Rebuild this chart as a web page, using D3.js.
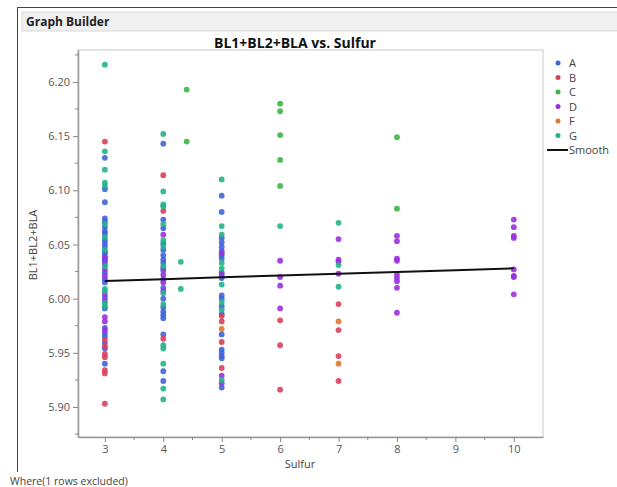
<!DOCTYPE html>
<html>
<head>
<meta charset="utf-8">
<script src="https://cdn.jsdelivr.net/npm/d3@7"></script>
<style>
  body { margin: 0; background: #fff; }
  text { font-family: 'Open Sans', 'Noto Sans', sans-serif; }
</style>
</head>
<body>
<svg id="chart" width="617" height="487"></svg>
<script>
// values, [Sulfur, BL1+BL2+BLA]
var groupA = [
  [3, 6.130], [3, 6.101], [3, 6.089], [3, 6.074], [3, 6.071], [3, 6.066], [3, 6.062], [3, 6.060],
  [3, 6.054], [3, 6.051], [3, 6.048], [3, 6.042], [3, 6.039], [3, 6.036], [3, 6.043], [3, 6.035],
  [3, 6.024], [3, 6.018], [3, 6.015], [3, 6.001], [3, 5.991], [3, 5.973], [3, 5.968], [3, 5.965],
  [3, 5.959], [3, 5.954], [3, 5.940],
  [4, 6.143], [4, 6.073], [4, 6.065], [4, 6.051], [4, 6.045], [4, 6.040], [4, 6.036], [4, 6.033],
  [4, 6.026], [4, 6.018], [4, 6.010], [4, 6.000], [4, 5.992], [4, 5.988], [4, 5.985], [4, 5.982],
  [4, 5.967], [4, 5.933], [4, 5.924],
  [5, 6.095], [5, 6.080], [5, 6.056], [5, 6.052], [5, 6.048], [5, 6.044], [5, 6.040], [5, 6.037],
  [5, 6.024], [5, 6.019], [5, 6.003], [5, 6.000], [5, 5.993], [5, 5.986], [5, 5.967], [5, 5.953],
  [5, 5.950], [5, 5.947], [5, 5.945], [5, 5.918]
]
var groupB = [
  [3, 6.145], [3, 5.962], [3, 5.956], [3, 5.949], [3, 5.946], [3, 5.934], [3, 5.931], [3, 5.903],
  [4, 6.114], [4, 6.081], [4, 5.963],
  [5, 5.984], [5, 5.979], [5, 5.960], [5, 5.936],
  [6, 5.980], [6, 5.957], [6, 5.916],
  [7, 5.995], [7, 5.971], [7, 5.947], [7, 5.924]
]
var groupC = [
  [4.4, 6.193], [4.4, 6.145],
  [6, 6.180], [6, 6.173], [6, 6.151], [6, 6.128], [6, 6.104],
  [8, 6.149], [8, 6.083]
]
var groupD = [
  [3, 6.038], [3, 6.032], [3, 6.027], [3, 6.021], [3, 6.004], [3, 5.998], [3, 5.983], [3, 5.979], [3, 5.971],
  [4, 6.059], [4, 6.028], [4, 6.022], [4, 6.015], [4, 6.007],
  [5, 6.042], [5, 6.022], [5, 5.929], [5, 5.922],
  [6, 6.035], [6, 6.020], [6, 6.012], [6, 5.991],
  [7, 6.055], [7, 6.036], [7, 6.034], [7, 6.023],
  [8, 6.058], [8, 6.053], [8, 6.037], [8, 6.035], [8, 6.022], [8, 6.019], [8, 6.016], [8, 6.010], [8, 5.987],
  [10, 6.073], [10, 6.066], [10, 6.058], [10, 6.056], [10, 6.027], [10, 6.021], [10, 6.020], [10, 6.004]
]
var groupF = [
  [5, 5.972],
  [7, 5.979], [7, 5.940]
]
var groupG = [
  [3, 6.216], [3, 6.136], [3, 6.119], [3, 6.107], [3, 6.104], [3, 6.069], [3, 6.057], [3, 6.045],
  [3, 6.030], [3, 6.009], [3, 6.007], [3, 5.996], [3, 5.993],
  [4, 6.152], [4, 6.099], [4, 6.087], [4, 6.085], [4, 6.069], [4, 6.054], [4, 6.048], [4, 6.030],
  [4, 6.005], [4, 5.995], [4, 5.957], [4, 5.954], [4, 5.940], [4, 5.917], [4, 5.907],
  [4.3, 6.034], [4.3, 6.009],
  [5, 6.110], [5, 6.067], [5, 6.059], [5, 6.033], [5, 6.028], [5, 6.013], [5, 5.997], [5, 5.990], [5, 5.925],
  [6, 6.067],
  [7, 6.070], [7, 6.031], [7, 6.011]
]

var groupNames = ['A', 'B', 'C', 'D', 'F', 'G']
var groupColors = ['#3f63d9', '#d9405a', '#3cb543', '#9b2fe0', '#d8792e', '#22b38c']

var smoothX = [3, 4, 5, 6, 7, 8, 9, 10]
var smoothY = [6.0163, 6.018, 6.0197, 6.0213, 6.023, 6.0247, 6.0263, 6.028]

var xTicks = [3, 4, 5, 6, 7, 8, 9, 10]
var yTicks = [5.90, 5.95, 6.00, 6.05, 6.10, 6.15, 6.20]

var svg = d3.select('#chart')

// window frame and header
svg.append('line').attr('x1', 17).attr('x2', 617).attr('y1', 7.5).attr('y2', 7.5).attr('stroke', '#444')
svg.append('line').attr('x1', 17.5).attr('x2', 17.5).attr('y1', 7).attr('y2', 472).attr('stroke', '#444')
svg.append('rect').attr('x', 22).attr('y', 12).attr('width', 600).attr('height', 19)
  .attr('fill', '#f0f0f0').attr('stroke', '#d9d9d9')
svg.append('text').attr('x', 26).attr('y', 26).attr('font-size', 12).attr('font-weight', 'bold')
  .attr('fill', '#222').text('Graph Builder')

var plotLeft = 78, plotRight = 543, plotTop = 50, plotBottom = 437

var x = d3.scaleLinear().domain([2.54, 10.5]).range([plotLeft, plotRight])
var y = d3.scaleLinear().domain([5.8723, 6.2295]).range([plotBottom, plotTop])

// title
svg.append('text').attr('x', 295).attr('y', 48).attr('text-anchor', 'middle')
  .attr('font-size', 14).attr('font-weight', 'bold').attr('fill', '#111')
  .text('BL1+BL2+BLA vs. Sulfur')

// plot frame
svg.append('rect').attr('x', plotLeft).attr('y', plotTop)
  .attr('width', plotRight - plotLeft).attr('height', plotBottom - plotTop)
  .attr('fill', 'none').attr('stroke', '#c8c8c8')

// axes
var xAxis = svg.append('g').attr('transform', 'translate(0,' + plotBottom + ')')
  .call(d3.axisBottom(x).tickValues(xTicks).tickFormat(d3.format('d')).tickSize(5).tickSizeOuter(0))
xAxis.append('g').selectAll('line')
  .data([3.5, 4.5, 5.5, 6.5, 7.5, 8.5, 9.5])
  .enter().append('line')
  .attr('x1', function(d) { return x(d) }).attr('x2', function(d) { return x(d) })
  .attr('y1', 0).attr('y2', 3).attr('stroke', '#888')

var yAxis = svg.append('g').attr('transform', 'translate(' + plotLeft + ',0)')
  .call(d3.axisLeft(y).tickValues(yTicks).tickFormat(d3.format('.2f')).tickSize(5).tickSizeOuter(0))
yAxis.append('g').selectAll('line')
  .data([5.875, 5.925, 5.975, 6.025, 6.075, 6.125, 6.175, 6.225])
  .enter().append('line')
  .attr('y1', function(d) { return y(d) }).attr('y2', function(d) { return y(d) })
  .attr('x1', 0).attr('x2', -3).attr('stroke', '#888')

svg.selectAll('.domain').attr('stroke', '#999').attr('stroke-width', 1.5)
svg.selectAll('.tick line').attr('stroke', '#888')
svg.selectAll('.tick text').attr('fill', '#555').attr('font-size', 11)
  .attr('font-family', "'Open Sans', sans-serif")

// axis titles
svg.append('text').attr('x', 300).attr('y', 468).attr('text-anchor', 'middle')
  .attr('font-size', 11).attr('fill', '#444').text('Sulfur')
svg.append('text').attr('transform', 'translate(37,245) rotate(-90)').attr('text-anchor', 'middle')
  .attr('font-size', 11).attr('fill', '#444').text('BL1+BL2+BLA')
svg.append('text').attr('x', 10).attr('y', 485)
  .attr('font-size', 10.5).attr('fill', '#444').text('Where(1 rows excluded)')

// points
var groups = [groupA, groupB, groupC, groupD, groupF, groupG]
groups.forEach(function(rows, i) {
  svg.append('g').selectAll('circle')
    .data(rows)
    .enter().append('circle')
    .attr('cx', function(d) { return x(d[0]) })
    .attr('cy', function(d) { return y(d[1]) })
    .attr('r', 2.9)
    .attr('fill', groupColors[i])
    .attr('fill-opacity', 0.9)
})

// smoother
var line = d3.line()
  .x(function(d, i) { return x(smoothX[i]) })
  .y(function(d) { return y(d) })
svg.append('path').attr('d', line(smoothY))
  .attr('fill', 'none').attr('stroke', '#111').attr('stroke-width', 2)

// legend
var legend = svg.append('g').attr('transform', 'translate(558,63)')
var item = legend.selectAll('.item')
  .data(groupNames)
  .enter().append('g')
  .attr('class', 'item')
  .attr('transform', function(d, i) { return 'translate(0,' + i * 14.5 + ')' })
item.append('circle').attr('r', 2.5).attr('fill', function(d, i) { return groupColors[i] })
item.append('text').attr('x', 11).attr('y', 4).attr('font-size', 11).attr('fill', '#444')
  .text(function(d) { return d })
legend.append('line').attr('x1', -11).attr('x2', 10).attr('y1', 87).attr('y2', 87)
  .attr('stroke', '#111').attr('stroke-width', 2)
legend.append('text').attr('x', 11).attr('y', 91).attr('font-size', 11).attr('fill', '#444').text('Smooth')
</script>
</body>
</html>
